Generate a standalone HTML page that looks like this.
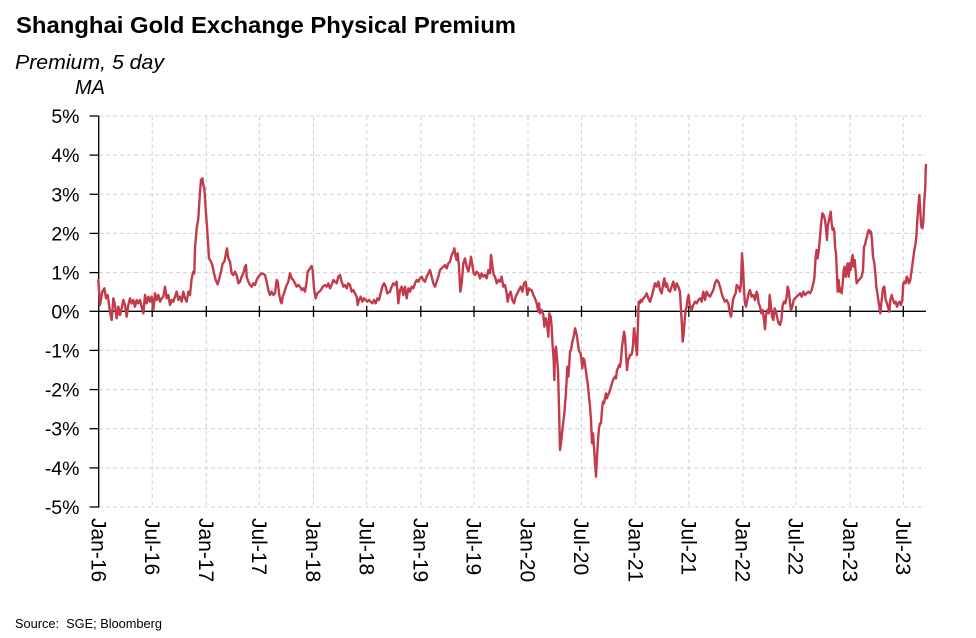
<!DOCTYPE html>
<html>
<head>
<meta charset="utf-8">
<style>
html,body{margin:0;padding:0;background:#fff;}
svg{display:block;}
text{font-family:"Liberation Sans",Arial,sans-serif;fill:#000;}
</style>
</head>
<body>
<svg width="976" height="638" viewBox="0 0 976 638" xmlns="http://www.w3.org/2000/svg">
<rect width="976" height="638" fill="#fff"/>
<text x="16" y="33" font-size="23" font-weight="bold" textLength="500" lengthAdjust="spacingAndGlyphs">Shanghai Gold Exchange Physical Premium</text>
<text x="15" y="69" font-size="20" font-style="italic" textLength="149" lengthAdjust="spacingAndGlyphs">Premium, 5 day</text>
<text x="75" y="94" font-size="20" font-style="italic">MA</text>

<!-- horizontal gridlines -->
<g stroke="#d3d3d3" stroke-width="1" stroke-dasharray="4,3" fill="none">
<line x1="99" y1="116" x2="926" y2="116"/>
<line x1="99" y1="155.1" x2="926" y2="155.1"/>
<line x1="99" y1="194.3" x2="926" y2="194.3"/>
<line x1="99" y1="233.4" x2="926" y2="233.4"/>
<line x1="99" y1="272.6" x2="926" y2="272.6"/>
<line x1="99" y1="350.4" x2="926" y2="350.4"/>
<line x1="99" y1="389.6" x2="926" y2="389.6"/>
<line x1="99" y1="428.7" x2="926" y2="428.7"/>
<line x1="99" y1="467.9" x2="926" y2="467.9"/>
<line x1="99" y1="507" x2="926" y2="507"/>
<!-- vertical gridlines -->
<line x1="152.2" y1="116" x2="152.2" y2="507"/>
<line x1="206.3" y1="116" x2="206.3" y2="507"/>
<line x1="259.4" y1="116" x2="259.4" y2="507"/>
<line x1="313.5" y1="116" x2="313.5" y2="507"/>
<line x1="366.7" y1="116" x2="366.7" y2="507"/>
<line x1="420.8" y1="116" x2="420.8" y2="507"/>
<line x1="474.0" y1="116" x2="474.0" y2="507"/>
<line x1="528.0" y1="116" x2="528.0" y2="507"/>
<line x1="581.5" y1="116" x2="581.5" y2="507"/>
<line x1="635.6" y1="116" x2="635.6" y2="507"/>
<line x1="688.8" y1="116" x2="688.8" y2="507"/>
<line x1="742.8" y1="116" x2="742.8" y2="507"/>
<line x1="796.0" y1="116" x2="796.0" y2="507"/>
<line x1="850.1" y1="116" x2="850.1" y2="507"/>
<line x1="903.3" y1="116" x2="903.3" y2="507"/>
</g>

<!-- axes -->
<g stroke="#000" stroke-width="1.3" fill="none">
<line x1="98.7" y1="116" x2="98.7" y2="507.5"/>
<line x1="98.7" y1="311.3" x2="926" y2="311.3"/>
<line x1="89.5" y1="116" x2="98.7" y2="116"/>
<line x1="89.5" y1="155.1" x2="98.7" y2="155.1"/>
<line x1="89.5" y1="194.3" x2="98.7" y2="194.3"/>
<line x1="89.5" y1="233.4" x2="98.7" y2="233.4"/>
<line x1="89.5" y1="272.6" x2="98.7" y2="272.6"/>
<line x1="89.5" y1="311.3" x2="98.7" y2="311.3"/>
<line x1="89.5" y1="350.4" x2="98.7" y2="350.4"/>
<line x1="89.5" y1="389.6" x2="98.7" y2="389.6"/>
<line x1="89.5" y1="428.7" x2="98.7" y2="428.7"/>
<line x1="89.5" y1="467.9" x2="98.7" y2="467.9"/>
<line x1="89.5" y1="507" x2="98.7" y2="507"/>
<line x1="152.2" y1="306" x2="152.2" y2="317"/>
<line x1="206.3" y1="306" x2="206.3" y2="317"/>
<line x1="259.4" y1="306" x2="259.4" y2="317"/>
<line x1="313.5" y1="306" x2="313.5" y2="317"/>
<line x1="366.7" y1="306" x2="366.7" y2="317"/>
<line x1="420.8" y1="306" x2="420.8" y2="317"/>
<line x1="474.0" y1="306" x2="474.0" y2="317"/>
<line x1="528.0" y1="306" x2="528.0" y2="317"/>
<line x1="581.5" y1="306" x2="581.5" y2="317"/>
<line x1="635.6" y1="306" x2="635.6" y2="317"/>
<line x1="688.8" y1="306" x2="688.8" y2="317"/>
<line x1="742.8" y1="306" x2="742.8" y2="317"/>
<line x1="796.0" y1="306" x2="796.0" y2="317"/>
<line x1="850.1" y1="306" x2="850.1" y2="317"/>
<line x1="903.3" y1="306" x2="903.3" y2="317"/>
</g>

<!-- y labels -->
<g font-size="19.5" text-anchor="end">
<text x="79.5" y="123">5%</text>
<text x="79.5" y="162.1">4%</text>
<text x="79.5" y="201.3">3%</text>
<text x="79.5" y="240.4">2%</text>
<text x="79.5" y="279.6">1%</text>
<text x="79.5" y="318.3">0%</text>
<text x="79.5" y="357.4">-1%</text>
<text x="79.5" y="396.6">-2%</text>
<text x="79.5" y="435.7">-3%</text>
<text x="79.5" y="474.9">-4%</text>
<text x="79.5" y="514">-5%</text>
</g>

<!-- x labels -->
<g font-size="21">
<text transform="translate(91.4,518) rotate(90)">Jan-16</text>
<text transform="translate(144.9,518) rotate(90)">Jul-16</text>
<text transform="translate(199.0,518) rotate(90)">Jan-17</text>
<text transform="translate(252.1,518) rotate(90)">Jul-17</text>
<text transform="translate(306.2,518) rotate(90)">Jan-18</text>
<text transform="translate(359.4,518) rotate(90)">Jul-18</text>
<text transform="translate(413.5,518) rotate(90)">Jan-19</text>
<text transform="translate(466.7,518) rotate(90)">Jul-19</text>
<text transform="translate(520.7,518) rotate(90)">Jan-20</text>
<text transform="translate(574.2,518) rotate(90)">Jul-20</text>
<text transform="translate(628.3,518) rotate(90)">Jan-21</text>
<text transform="translate(681.5,518) rotate(90)">Jul-21</text>
<text transform="translate(735.5,518) rotate(90)">Jan-22</text>
<text transform="translate(788.7,518) rotate(90)">Jul-22</text>
<text transform="translate(842.8,518) rotate(90)">Jan-23</text>
<text transform="translate(896.0,518) rotate(90)">Jul-23</text>
</g>

<text x="15" y="628" font-size="12.5" textLength="147" lengthAdjust="spacingAndGlyphs">Source:&#160; SGE; Bloomberg</text>

<!-- data series -->
<g fill="none" stroke="#c23b4d" stroke-width="2.4" stroke-linejoin="round" stroke-linecap="round">
<polyline vector-effect="non-scaling-stroke" transform="translate(95,165) scale(0.333333)" points="10,345 15,420 22,380 28,370 33,400 38,390 45,440 50,465 55,400 60,420 65,460 70,425 75,450 80,430 85,405 90,420 95,455 100,420 105,400 110,415 115,405 120,425 125,405 130,415 135,405 140,425 145,445 150,390 155,415 160,395 165,410 170,395 175,435 180,385 185,405 190,390 195,410 200,400 205,395 210,365 215,400 220,390 225,420 230,405 235,410 240,395 245,380 250,405 255,395 260,410 265,380 270,400 275,410 280,380 285,390 290,340 295,320 298,325 300,250 305,190 310,160 315,80 318,45 322,40 325,60 328,70 332,130 337,200 342,280 348,290 352,300 357,325 362,345 368,358 373,340 378,320 383,295 388,290 392,270 396,250 400,280 405,290 410,325 415,330 420,320 425,330 430,355 435,350"/>
<polyline vector-effect="non-scaling-stroke" transform="translate(240,240) scale(0.333333)" points="0,125 5,110 10,100 15,80 18,75 20,110 25,125 30,135 35,140 40,130 45,135 50,120 55,110 60,105 65,100 70,102 75,105 80,125 85,150 90,165 95,155 100,165 105,160 110,120 113,125 118,165 122,185 125,190 128,170 132,160 138,140 145,125 150,100 155,115 160,120 165,130 170,140 175,135 180,140 185,150 190,145 195,155 200,125 203,95 207,90 210,85 215,78 218,90 222,145 227,175 232,160 238,155 243,150 248,140 255,135 260,140 265,130 270,145 275,135 280,120 285,125 290,130 295,110 300,105 305,125 310,140 315,135 320,145 325,130 330,135 335,155 340,150 345,160 350,170 353,195 357,180 362,170 367,185 372,175 377,180 382,185 387,180 392,185 397,190 402,180 407,190 412,175 417,180 422,160 427,140 432,130 437,140 442,160 450,155"/>
<polyline vector-effect="non-scaling-stroke" transform="translate(385,240) scale(0.333333)" points="15,155 20,140 25,130 30,135 35,125 40,190 45,150 50,140 55,165 60,140 65,175 70,145 75,155 80,140 85,145 90,130 95,120 100,125 105,115 110,110 115,120 120,125 125,110 130,100 135,90 140,110 145,130 150,140 155,125 160,110 165,90 170,85 175,80 180,75 185,85 190,70 195,65 200,45 205,35 208,25 212,50 215,60 218,40 222,80 226,155 230,130 235,70 240,55 245,80 250,95 255,70 258,50 262,75 266,100 270,105 275,95 280,100 285,115 290,100 295,110 300,105 305,115 310,90 315,100 318,45 322,75 326,105 330,110 335,130 340,120 345,125 350,110 355,140 360,135 365,160 368,185 372,165 377,155 382,180 387,190 392,170 397,160 402,150 407,140 412,155 417,130 422,125 427,165 432,145 435,150"/>
<polyline vector-effect="non-scaling-stroke" transform="translate(525,280) scale(0.333333)" points="15,30 20,30 25,45 30,55 35,70 40,95 42,70 45,100 50,90 55,105 58,140 62,115 66,130 70,170 73,100 77,110 80,140 83,200 86,240 88,300 90,215 93,200 96,235 99,270 102,380 105,510 108,490 112,450 118,400 122,350 125,300 127,260 130,290 133,250 135,215 138,210 142,185 146,170 150,145 153,155 156,170 160,200 163,215 167,220 170,245 172,265 175,235 178,240 181,260 185,290 188,310 192,350 195,380 198,420 201,490 204,460 207,500 210,550 213,590 216,530 219,480 222,445 225,430 228,430 231,390 234,365 237,370 240,355 243,340 246,355 249,345 252,340 255,330 258,320 261,310 264,300 267,295 270,290 273,295 276,270 279,265 282,255 285,260 288,240 291,200 294,180 297,155 300,170 303,220 306,270 309,240 312,235 315,225 318,225 321,220 324,195 327,145 330,165 333,200 336,225 338,160 341,65 344,70 347,60 350,65 355,55 360,50 365,40 370,55 375,65"/>
<polyline vector-effect="non-scaling-stroke" transform="translate(640,240) scale(0.333333)" points="30,185 35,170 40,150 45,130 50,140 55,125 60,150 65,160 70,130 73,115 77,140 80,130 85,150 90,155 95,140 100,125 105,150 110,130 115,140 120,155 123,210 126,260 128,305 131,280 134,240 137,210 140,200 143,175 146,165 149,195 152,200 155,210 160,195 165,185 170,190 175,180 180,175 185,185 188,165 190,155 195,180 200,155 205,165 210,170 215,160 220,150 225,130 230,120 235,125 240,140 245,160 250,175 255,185 260,180 265,190 270,220 273,230 276,205 279,180 282,170 287,160 290,135 295,140 300,155 303,130 306,40 309,80 312,150 315,190 318,200 322,180 326,160 330,150 335,170 340,165 345,180 350,155 353,165 356,190 360,200 364,220 368,210 372,240 375,268 378,225 382,210 386,220 389,165 392,190 396,230 400,240 404,205 408,215 412,235 416,250 420,255 424,240 428,195 432,185 436,190 440,170"/>
<polyline vector-effect="non-scaling-stroke" transform="translate(785,160) scale(0.333333)" points="5,410 8,380 12,395 15,430 18,450 22,440 26,420 30,415 35,410 40,405 45,400 50,410 55,395 60,405 65,400 70,395 75,400 80,390 85,370 88,355 92,290 95,270 98,295 102,265 105,230 108,195 112,160 116,165 120,180 123,205 126,240 128,200 131,185 134,170 137,155 140,190 143,210 146,205 148,215 150,260 153,280 156,345 158,395 161,360 164,395 167,385 170,400 173,370 176,330 179,320 182,350 185,330 188,310 191,350 194,310 197,330 200,300 203,285 206,320 209,300 212,335 215,370 218,365 222,360 226,355 230,350 234,330 237,260 240,255 243,240 246,230 249,215 252,210 255,220 258,215 261,240 264,290 268,310 271,340 274,380 277,400 280,420 283,440 286,460 290,420 294,385 298,380 302,420 306,430 310,445 313,455 316,420 320,405 324,420 328,430 332,425 336,440 340,430 344,425 348,435 352,420 355,370 358,365 362,370 365,350 368,355 372,370 376,360 380,330 384,300 388,270 391,255 394,230 397,180 400,140 403,105 406,155 409,200 412,205 415,185 418,120 421,80 422,30 423,15"/>
</g>
</svg>
</body>
</html>
